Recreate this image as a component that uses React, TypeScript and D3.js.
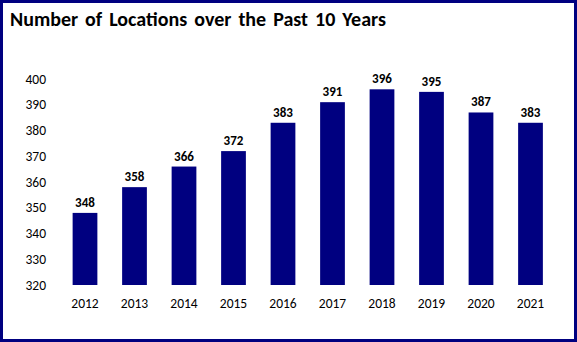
import React, { useEffect } from "react";
import * as d3 from "d3";

const years = ["2012", "2013", "2014", "2015", "2016", "2017", "2018", "2019", "2020", "2021"];
const locations = [348, 358, 366, 372, 383, 391, 396, 395, 387, 383];
const yTicks = [320, 330, 340, 350, 360, 370, 380, 390, 400];
const title = "Number of Locations  over the Past 10 Years";

const W = 577;
const H = 342;
const NAVY = "#000080";
const FONT = "Carlito, Calibri, 'Liberation Sans Narrow', 'Open Sans', sans-serif";

export default function App() {
  useEffect(() => {
    document.body.style.margin = "0";
  }, []);
  const x = d3.scaleBand().domain(years).range([60.25, 555.25]).paddingInner(0.5).paddingOuter(0.25);
  const y = d3.scaleLinear().domain([320, 400]).range([285, 79]);
  return (
    <svg width={W} height={H} style={{ position: "fixed", left: 0, top: 0, background: "#fff" }}>
      <rect x={1.5} y={1.5} width={W - 3} height={H - 3} fill="#fff" stroke={NAVY} strokeWidth={3} />
      <text x={10} y={26} fontFamily={FONT} fontWeight="bold" fontSize={20} wordSpacing={2.5} fill="#000">
        {title}
      </text>
      {yTicks.map((t) => (
        <text key={t} x={46} y={y(t)} dy="0.35em" textAnchor="end" fontFamily={FONT} fontSize={13.5} fill="#000">
          {t}
        </text>
      ))}
      {years.map((yr, i) => (
        <g key={yr}>
          <rect x={x(yr)} y={y(locations[i])} width={x.bandwidth()} height={y(320) - y(locations[i])} fill={NAVY} />
          <text x={(x(yr) as number) + x.bandwidth() / 2} y={y(locations[i]) - 6} textAnchor="middle" fontFamily={FONT} fontWeight="bold" fontSize={13} fill="#000">
            {locations[i]}
          </text>
          <text x={(x(yr) as number) + x.bandwidth() / 2} y={308} textAnchor="middle" fontFamily={FONT} fontSize={13.5} fill="#000">
            {yr}
          </text>
        </g>
      ))}
    </svg>
  );
}
